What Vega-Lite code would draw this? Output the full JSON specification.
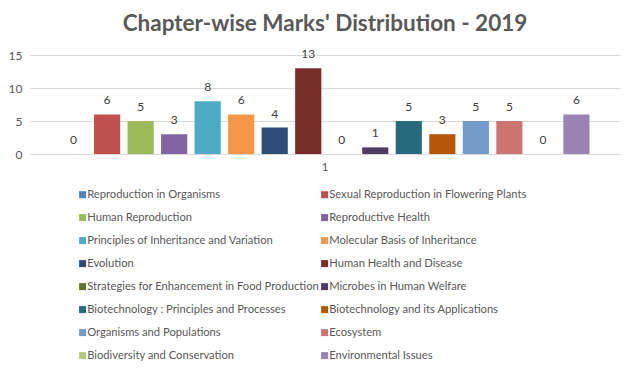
{
  "$schema": "https://vega.github.io/schema/vega-lite/v6.json",
  "autosize": {"type": "none"},
  "width": 590,
  "height": 99,
  "padding": {"left": 30, "top": 55, "right": 14, "bottom": 217},
  "background": "white",
  "title": {
    "text": "Chapter-wise Marks' Distribution - 2019",
    "font": "Lato",
    "fontSize": 22.5,
    "fontWeight": "bold",
    "color": "#595959",
    "anchor": "middle",
    "frame": "group",
    "offset": 13
  },
  "data": {
    "values": [
      {"cat": "1", "chapter": "Reproduction in Organisms", "marks": 0},
      {"cat": "1", "chapter": "Sexual Reproduction in Flowering Plants", "marks": 6},
      {"cat": "1", "chapter": "Human Reproduction", "marks": 5},
      {"cat": "1", "chapter": "Reproductive Health", "marks": 3},
      {"cat": "1", "chapter": "Principles of Inheritance and Variation", "marks": 8},
      {"cat": "1", "chapter": "Molecular Basis of Inheritance", "marks": 6},
      {"cat": "1", "chapter": "Evolution", "marks": 4},
      {"cat": "1", "chapter": "Human Health and Disease", "marks": 13},
      {"cat": "1", "chapter": "Strategies for Enhancement in Food Production", "marks": 0},
      {"cat": "1", "chapter": "Microbes in Human Welfare", "marks": 1},
      {"cat": "1", "chapter": "Biotechnology : Principles and Processes", "marks": 5},
      {"cat": "1", "chapter": "Biotechnology and its Applications", "marks": 3},
      {"cat": "1", "chapter": "Organisms and Populations", "marks": 5},
      {"cat": "1", "chapter": "Ecosystem", "marks": 5},
      {"cat": "1", "chapter": "Biodiversity and Conservation", "marks": 0},
      {"cat": "1", "chapter": "Environmental Issues", "marks": 6}
    ]
  },
  "encoding": {
    "x": {
      "field": "cat",
      "type": "nominal",
      "scale": {"paddingInner": 0, "paddingOuter": 0.05},
      "axis": {
        "title": null,
        "labelAngle": 0,
        "ticks": false,
        "domain": true,
        "domainColor": "#d9d9d9",
        "labelFont": "Lato",
        "labelFontSize": 12,
        "labelColor": "#595959",
        "labelPadding": 7
      }
    },
    "xOffset": {
      "field": "chapter",
      "type": "nominal",
      "sort": null,
      "scale": {"paddingInner": 0.22, "paddingOuter": 0.11}
    },
    "y": {
      "field": "marks",
      "type": "quantitative",
      "scale": {"domain": [0, 15], "nice": false},
      "axis": {
        "title": null,
        "values": [0, 5, 10, 15],
        "domain": false,
        "ticks": false,
        "gridColor": "#d9d9d9",
        "labelFont": "Lato",
        "labelFontSize": 12,
        "labelColor": "#595959",
        "labelPadding": 8
      }
    }
  },
  "layer": [
    {
      "mark": {"type": "bar"},
      "encoding": {
        "color": {
          "field": "chapter",
          "type": "nominal",
          "scale": {
            "domain": [
              "Reproduction in Organisms",
              "Sexual Reproduction in Flowering Plants",
              "Human Reproduction",
              "Reproductive Health",
              "Principles of Inheritance and Variation",
              "Molecular Basis of Inheritance",
              "Evolution",
              "Human Health and Disease",
              "Strategies for Enhancement in Food Production",
              "Microbes in Human Welfare",
              "Biotechnology : Principles and Processes",
              "Biotechnology and its Applications",
              "Organisms and Populations",
              "Ecosystem",
              "Biodiversity and Conservation",
              "Environmental Issues"
            ],
            "range": [
              "#4F81BD", "#C0504D", "#9BBB59", "#8064A2",
              "#4BACC6", "#F79646", "#2C4D75", "#772C2A",
              "#5F7530", "#4D3B62", "#276A7C", "#B65708",
              "#729ACA", "#CD7371", "#AFC97A", "#9983B5"
            ]
          },
          "legend": {
            "title": null,
            "orient": "none",
            "legendX": 47,
            "legendY": 134,
            "columns": 2,
            "direction": "horizontal",
            "columnPadding": -4,
            "rowPadding": 11,
            "symbolType": "square",
            "symbolSize": 49,
            "symbolStrokeWidth": 0,
            "labelFont": "Lato",
            "labelFontSize": 11.2,
            "labelColor": "#595959",
            "labelOffset": -1,
            "labelLimit": 300
          }
        }
      }
    },
    {
      "mark": {"type": "text", "baseline": "bottom", "dy": -7, "font": "Lato", "fontSize": 12, "color": "#404040"},
      "encoding": {"text": {"field": "marks", "type": "quantitative"}}
    }
  ],
  "config": {
    "view": {"stroke": null}
  }
}
